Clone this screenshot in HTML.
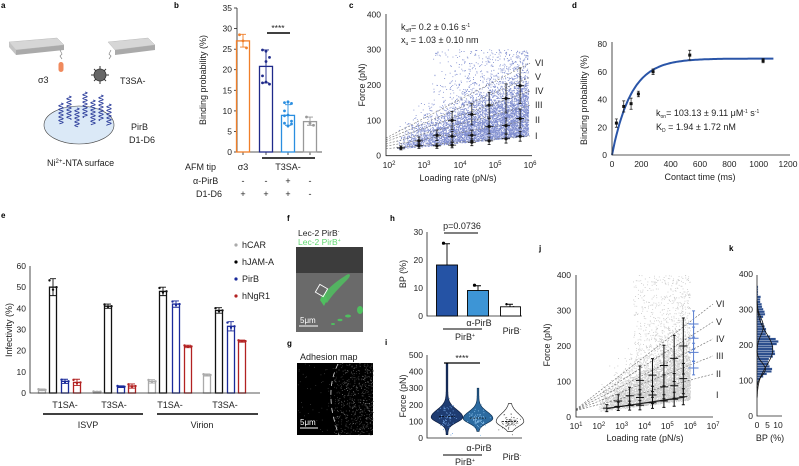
<!DOCTYPE html>
<html><head><meta charset="utf-8">
<style>
html,body{margin:0;padding:0;background:#fff;}
svg{display:block;font-family:"Liberation Sans",Arial,sans-serif;}
.t{font-size:8.5px;fill:#222}
.s{font-size:9px;fill:#222}
.L{font-size:8px;font-weight:bold;fill:#000}
.ax{stroke:#222;stroke-width:0.8;fill:none}
</style></head><body>
<svg id="sv" width="799" height="466" viewBox="0 0 799 466" xmlns="http://www.w3.org/2000/svg">
<ellipse cx="79" cy="125" rx="35" ry="19" fill="#dbe9f7" stroke="#444" stroke-width="0.6"/>
<g id="dyn"></g>
<!-- panel letters -->
<text class="L" x="1" y="8">a</text>
<text class="L" x="174" y="8">b</text>
<text class="L" x="349" y="8">c</text>
<text class="L" x="572" y="8">d</text>
<text class="L" x="1" y="218">e</text>
<text class="L" x="287" y="221">f</text>
<text class="L" x="287" y="346">g</text>
<text class="L" x="390" y="221">h</text>
<text class="L" x="385" y="345">i</text>
<text class="L" x="539" y="251">j</text>
<text class="L" x="729" y="251">k</text>

<!-- panel a -->
<polygon points="9,42 57,38 64,45 16,50" fill="#d6d6d6" stroke="#bbb" stroke-width="0.5"/>
<polygon points="16,50 64,45 64,50 16,55" fill="#aaa"/>
<polygon points="9,42 16,50 16,55 9,47" fill="#c4c4c4"/>
<path d="M60,50 l2,4 l-2,2 l2,3" stroke="#888" fill="none" stroke-width="0.7"/>
<rect x="58.5" y="62" width="5" height="10" rx="2.5" fill="#f08a5d"/>
<text class="s" x="38" y="83">σ3</text>
<polygon points="108,42 148,38 155,45 115,50" fill="#d6d6d6" stroke="#bbb" stroke-width="0.5"/>
<polygon points="115,50 155,45 155,50 115,55" fill="#aaa"/>
<path d="M111,50 l-2,4 l2,2 l-2,3" stroke="#888" fill="none" stroke-width="0.7"/>
<g stroke="#333" stroke-width="1">
<line x1="100" y1="66" x2="100" y2="84"/><line x1="91" y1="75" x2="109" y2="75"/>
<line x1="94" y1="69" x2="106" y2="81"/><line x1="106" y1="69" x2="94" y2="81"/></g>
<circle cx="100" cy="75" r="6" fill="#666" stroke="#333" stroke-width="0.8"/>
<text class="s" x="120" y="84">T3SA-</text>
<text class="s" x="131" y="130">PirB</text>
<text class="s" x="129" y="143">D1-D6</text>
<text class="s" x="47" y="166">Ni<tspan font-size="6" dy="-3">2+</tspan><tspan dy="3">-NTA surface</tspan></text>

<!-- panel b -->
<path class="ax" d="M237,8 V152 H322"/>
<g class="ax"><line x1="234" y1="152" x2="237" y2="152"/><line x1="234" y1="131.4" x2="237" y2="131.4"/><line x1="234" y1="110.9" x2="237" y2="110.9"/><line x1="234" y1="90.3" x2="237" y2="90.3"/><line x1="234" y1="69.7" x2="237" y2="69.7"/><line x1="234" y1="49.2" x2="237" y2="49.2"/><line x1="234" y1="28.6" x2="237" y2="28.6"/><line x1="234" y1="8" x2="237" y2="8"/>
<line x1="243" y1="152" x2="243" y2="155"/><line x1="266" y1="152" x2="266" y2="155"/><line x1="288" y1="152" x2="288" y2="155"/><line x1="310" y1="152" x2="310" y2="155"/></g>
<g class="t" text-anchor="end"><text x="232" y="155">0</text><text x="232" y="134.4">5</text><text x="232" y="113.9">10</text><text x="232" y="93.3">15</text><text x="232" y="72.7">20</text><text x="232" y="52.2">25</text><text x="232" y="31.6">30</text><text x="232" y="11">35</text></g>
<text class="s" transform="translate(206,80) rotate(-90)" text-anchor="middle">Binding probability (%)</text>
<rect x="236.5" y="40.9" width="13" height="111.1" fill="none" stroke="#f07f2a" stroke-width="1.3"/>
<rect x="259.5" y="66.4" width="13" height="85.6" fill="none" stroke="#1f2a8a" stroke-width="1.3"/>
<rect x="281.5" y="115.4" width="13" height="36.6" fill="none" stroke="#2a8ee0" stroke-width="1.3"/>
<rect x="303.5" y="121.6" width="13" height="30.4" fill="none" stroke="#999" stroke-width="1.3"/>
<line x1="267" y1="33" x2="290" y2="33" stroke="#000" stroke-width="1.5"/>
<text class="t" x="278" y="31" text-anchor="middle" font-size="8">****</text>
<g class="s"><text x="185" y="170">AFM tip</text><text x="243" y="170" text-anchor="middle">σ3</text><text x="288" y="170" text-anchor="middle">T3SA-</text>
<text x="193" y="184">α-PirB</text><text x="196" y="197">D1-D6</text>
<g text-anchor="middle"><text x="243" y="184">-</text><text x="266" y="184">-</text><text x="288" y="184">+</text><text x="310" y="184">-</text>
<text x="243" y="197">+</text><text x="266" y="197">+</text><text x="288" y="197">+</text><text x="310" y="197">-</text></g></g>
<line x1="262" y1="158" x2="315" y2="158" stroke="#000" stroke-width="1.5"/>

<!-- panel c -->
<path class="ax" d="M386,14 V155.7 H532"/>
<g class="t" text-anchor="end"><text x="381" y="158.7">0</text><text x="381" y="123.4">100</text><text x="381" y="88">200</text><text x="381" y="52.7">300</text><text x="381" y="17.3">400</text></g>
<g class="t" text-anchor="middle"><text x="389" y="168">10<tspan font-size="6" dy="-3">2</tspan></text><text x="424" y="168">10<tspan font-size="6" dy="-3">3</tspan></text><text x="460" y="168">10<tspan font-size="6" dy="-3">4</tspan></text><text x="495" y="168">10<tspan font-size="6" dy="-3">5</tspan></text><text x="530" y="168">10<tspan font-size="6" dy="-3">6</tspan></text></g>
<text class="s" x="458" y="181" text-anchor="middle">Loading rate (pN/s)</text>
<text class="s" transform="translate(365,85) rotate(-90)" text-anchor="middle">Force (pN)</text>
<text class="s" x="401" y="30">k<tspan font-size="5" dy="2">off</tspan><tspan dy="-2">= 0.2 ± 0.16 s</tspan><tspan font-size="5" dy="-3">-1</tspan></text>
<text class="s" x="401" y="43">x<tspan font-size="5" dy="2">u</tspan><tspan dy="-2"> = 1.03 ± 0.10 nm</tspan></text>
<g class="s"><text x="535" y="66">VI</text><text x="535" y="80">V</text><text x="535" y="94">IV</text><text x="535" y="108">III</text><text x="535" y="123">II</text><text x="535" y="139">I</text></g>

<!-- panel d -->
<path class="ax" d="M612,42 V155 H790"/>
<g class="t" text-anchor="end"><text x="607" y="158">0</text><text x="607" y="130.3">20</text><text x="607" y="102.5">40</text><text x="607" y="74.8">60</text><text x="607" y="47">80</text></g>
<g class="t" text-anchor="middle"><text x="612" y="167">0</text><text x="641.3" y="167">200</text><text x="670.7" y="167">400</text><text x="700" y="167">600</text><text x="729.4" y="167">800</text><text x="758.7" y="167">1000</text><text x="788" y="167">1200</text></g>
<text class="s" x="700" y="180" text-anchor="middle">Contact time (ms)</text>
<text class="s" transform="translate(587,100) rotate(-90)" text-anchor="middle">Binding probability (%)</text>
<text class="s" x="656" y="116">k<tspan font-size="5" dy="2">on</tspan><tspan dy="-2">= 103.13 ± 9.11 μM</tspan><tspan font-size="5" dy="-3">-1</tspan><tspan dy="3"> s</tspan><tspan font-size="5" dy="-3">-1</tspan></text>
<text class="s" x="656" y="130">K<tspan font-size="5" dy="2">D</tspan><tspan dy="-2"> = 1.94 ± 1.72 nM</tspan></text>

<!-- panel e -->
<path class="ax" d="M30,266 V393 H260"/>
<g class="t" text-anchor="end"><text x="26" y="396">0</text><text x="26" y="374.8">10</text><text x="26" y="353.7">20</text><text x="26" y="332.5">30</text><text x="26" y="311.3">40</text><text x="26" y="290.2">50</text><text x="26" y="269">60</text></g>
<text class="s" transform="translate(12,330) rotate(-90)" text-anchor="middle">Infectivity (%)</text>
<g class="s" text-anchor="middle"><text x="65" y="408">T1SA-</text><text x="114" y="408">T3SA-</text><text x="170" y="408">T1SA-</text><text x="225" y="408">T3SA-</text>
<text x="88" y="428">ISVP</text><text x="202" y="428">Virion</text></g>
<line x1="43" y1="414" x2="143" y2="414" stroke="#000" stroke-width="1.6"/>
<line x1="157" y1="414" x2="258" y2="414" stroke="#000" stroke-width="1.6"/>
<circle cx="236" cy="245" r="1.6" fill="#aaa"/><circle cx="236" cy="262" r="1.6" fill="#000"/><circle cx="236" cy="279" r="1.6" fill="#1a2a9a"/><circle cx="236" cy="296" r="1.6" fill="#b22222"/>
<g class="s"><text x="242" y="248">hCAR</text><text x="242" y="265">hJAM-A</text><text x="242" y="282">PirB</text><text x="242" y="299">hNgR1</text></g>

<!-- panel f -->
<rect x="296" y="247" width="67" height="85" fill="#6a6a6a"/>
<rect x="296" y="247" width="67" height="26" fill="#3c3c3c"/>
<text class="t" x="298" y="236" font-size="8">Lec-2 PirB<tspan font-size="5" dy="-3">-</tspan></text>
<text class="t" x="298" y="245" font-size="8" style="fill:#5fd86f">Lec-2 PirB<tspan font-size="5" dy="-3">+</tspan></text>
<path d="M321,298 C326,290 335,282 345,276 C350,272 352,275 347,280 C340,287 332,295 327,303 Z" fill="#4fbf5f" opacity="0.85"/>
<path d="M320,300 C322,294 326,292 327,300 L324,306 Z" fill="#4fbf5f"/>
<ellipse cx="360" cy="310" rx="3" ry="4" fill="#4fbf5f"/>
<ellipse cx="348" cy="316" rx="3" ry="1.5" fill="#4fbf5f"/><ellipse cx="340" cy="320" rx="2.5" ry="1.2" fill="#4fbf5f"/><ellipse cx="333" cy="324" rx="2" ry="1" fill="#4fbf5f"/>
<rect x="317" y="286" width="9" height="9" fill="none" stroke="#fff" stroke-width="0.9" transform="rotate(30 321.5 290.5)"/>
<line x1="299" y1="326" x2="318" y2="326" stroke="#fff" stroke-width="1"/>
<text x="300" y="323" font-size="8" fill="#fff">5μm</text>

<!-- panel g -->
<text class="s" x="300" y="360">Adhesion map</text>
<rect x="297" y="363" width="76" height="72" fill="#000"/>
<g id="gdots"></g>
<path d="M338,364 C330,380 330,395 332,410 C334,420 336,428 339,435" stroke="#ddd" stroke-width="0.8" stroke-dasharray="5,4" fill="none"/>
<line x1="300" y1="428" x2="318" y2="428" stroke="#fff" stroke-width="1"/>
<text x="300" y="425" font-size="8" fill="#fff">5μm</text>

<!-- panel h -->
<path class="ax" d="M427,232 V316 H522"/>
<g class="t" text-anchor="end"><text x="423" y="319">0</text><text x="423" y="291">10</text><text x="423" y="263">20</text><text x="423" y="235">30</text></g>
<text class="s" transform="translate(406,274) rotate(-90)" text-anchor="middle">BP (%)</text>
<rect x="436.5" y="265" width="21" height="51" fill="#2553a5" stroke="#000" stroke-width="0.9"/>
<rect x="467.5" y="290.5" width="21" height="25.5" fill="#3d95d6" stroke="#000" stroke-width="0.9"/>
<rect x="500.5" y="306.8" width="20" height="9.2" fill="#fff" stroke="#000" stroke-width="0.9"/>
<text class="s" x="462" y="229" text-anchor="middle">p=0.0736</text>
<line x1="444" y1="233" x2="478" y2="233" stroke="#000" stroke-width="1"/>
<g class="s" text-anchor="middle"><text x="479" y="326">α-PirB</text><text x="465" y="340">PirB<tspan font-size="5" dy="-3">+</tspan></text><text x="512" y="334">PirB<tspan font-size="5" dy="-3">-</tspan></text></g>
<line x1="443" y1="329" x2="482" y2="329" stroke="#000" stroke-width="1"/>

<!-- panel i -->
<path class="ax" d="M427,355 V438 H522"/>
<g class="t" text-anchor="end"><text x="423" y="441">0</text><text x="423" y="424.4">100</text><text x="423" y="407.8">200</text><text x="423" y="391.2">300</text><text x="423" y="374.6">400</text><text x="423" y="358">500</text></g>
<text class="s" transform="translate(406,396) rotate(-90)" text-anchor="middle">Force (pN)</text>
<line x1="444" y1="363" x2="480" y2="363" stroke="#000" stroke-width="1.2"/>
<text class="t" x="462" y="361" text-anchor="middle" font-size="8">****</text>
<g class="s" text-anchor="middle"><text x="479" y="451">α-PirB</text><text x="465" y="465">PirB<tspan font-size="5" dy="-3">+</tspan></text><text x="512" y="460">PirB<tspan font-size="5" dy="-3">-</tspan></text></g>
<line x1="443" y1="455" x2="482" y2="455" stroke="#000" stroke-width="1"/>

<!-- panel j -->
<path class="ax" d="M576,275 V417 H713"/>
<g class="t" text-anchor="end"><text x="571" y="420">0</text><text x="571" y="384.5">100</text><text x="571" y="349">200</text><text x="571" y="313.5">300</text><text x="571" y="278">400</text></g>
<g class="t" text-anchor="middle"><text x="576" y="429">10<tspan font-size="6" dy="-3">1</tspan></text><text x="598.8" y="429">10<tspan font-size="6" dy="-3">2</tspan></text><text x="621.7" y="429">10<tspan font-size="6" dy="-3">3</tspan></text><text x="644.5" y="429">10<tspan font-size="6" dy="-3">4</tspan></text><text x="667.3" y="429">10<tspan font-size="6" dy="-3">5</tspan></text><text x="690.2" y="429">10<tspan font-size="6" dy="-3">6</tspan></text><text x="713" y="429">10<tspan font-size="6" dy="-3">7</tspan></text></g>
<text class="s" x="645" y="441" text-anchor="middle">Loading rate (pN/s)</text>
<text class="s" transform="translate(550,345) rotate(-90)" text-anchor="middle">Force (pN)</text>
<g class="s"><text x="716" y="307">VI</text><text x="716" y="325">V</text><text x="716" y="342">IV</text><text x="716" y="359">III</text><text x="716" y="377">II</text><text x="716" y="398">I</text></g>

<!-- panel k -->
<path class="ax" d="M757,275 V416 H782"/>
<g class="t" text-anchor="end"><text x="753" y="419">0</text><text x="753" y="383.5">100</text><text x="753" y="348">200</text><text x="753" y="312.5">300</text><text x="753" y="277">400</text></g>
<g class="t" text-anchor="middle"><text x="757" y="428">0</text><text x="767.5" y="428">5</text><text x="778" y="428">10</text></g>
<text class="s" x="770" y="441" text-anchor="middle">BP (%)</text>
</svg>
<script>
(function(){
var dyn=document.getElementById('dyn');
var out=[];
var seed=12345;
function R(){seed|=0;seed=seed+0x6D2B79F5|0;var t=Math.imul(seed^seed>>>15,1|seed);t=t+Math.imul(t^t>>>7,61|t)^t;return((t^t>>>14)>>>0)/4294967296;}
function N(){return Math.sqrt(-2*Math.log(R()+1e-9))*Math.cos(2*Math.PI*R());}
// panel a helices
var hx=[61,69,77,85,93,101,109],ht=[103,96,108,92,100,95,104],hb=[124,120,127,118,125,121,126];
for(var i=0;i<hx.length;i++){var d="M"+hx[i]+","+ht[i];for(var y=ht[i];y<=hb[i];y+=0.4){d+=" L"+(hx[i]+2.2*Math.sin((y-ht[i])*1.7)).toFixed(2)+","+y.toFixed(1);}out.push('<path d="'+d+'" stroke="#2e3f9c" stroke-width="0.9" fill="none"/>');}
// panel b dots & error bars
function yb(v){return 152-v*4.114;}
function eb(x,lo,hi,c){out.push('<path d="M'+x+','+lo+' V'+hi+' M'+(x-3)+','+hi+' H'+(x+3)+' M'+(x-3)+','+lo+' H'+(x+3)+'" stroke="'+c+'" stroke-width="0.9" fill="none"/>');}
function dots(x,vals,f,c,r){vals.forEach(function(v,k){out.push('<circle cx="'+(x+((k%3)-1)*3.5)+'" cy="'+f(v)+'" r="'+(r||1.4)+'" fill="'+c+'"/>');});}
eb(243,yb(25.5),yb(28.6),'#f07f2a');dots(243,[28.5,27,25.3],yb,'#f07f2a');
eb(266,yb(16.8),yb(24.8),'#1f2a8a');dots(266,[24.8,24.5,23,18.5,17,16.5,16.8,22],yb,'#1f2a8a');
eb(288,yb(6.5),yb(11.5),'#2a8ee0');dots(288,[12,12.2,11.8,10,9,7.5,7,6.3,6.8,8.8,12.1],yb,'#2a8ee0');
eb(310,yb(6.5),yb(8.5),'#999');dots(310,[8.5,7,6.5],yb,'#999');
// panel c scatter
function xc(l){return 389+(l-2)*35.25;}function yc(F){return 155.7-F*0.3535;}
var s=[];
for(var i=0;i<6500;i++){var l=2.2+3.75*Math.pow(R(),0.55);var F;
 if(R()<0.12&&l>3.2){F=60+R()*240;}else{F=15+10*(l-2)+Math.abs(N())*(22+18*(l-2));}
 if(F>300||l>5.95)continue;s.push('M'+xc(l).toFixed(1)+','+yc(F).toFixed(1)+'h.9');}
out.push('<path d="'+s.join('')+'" stroke="#3f54b8" stroke-width="0.9" opacity="0.65"/>');
var cl=[[50,262],[45,222],[40,183],[33,143],[27,101],[20,56]];
cl.forEach(function(p){out.push('<line x1="386" y1="'+yc(p[0])+'" x2="'+xc(6)+'" y2="'+yc(p[1])+'" stroke="#777" stroke-width="0.6" stroke-dasharray="2,1.5"/>');});
var cc=[[2.34,[22]],[2.85,[28,42]],[3.36,[28,58]],[3.79,[30,55,100]],[4.35,[38,58,117]],[4.84,[42,83,143]],[5.32,[48,85,162]],[5.72,[55,105,198]]];
function cross(x,y,dx,dy,c,w){out.push('<path d="M'+(x-dx)+','+y+'H'+(x+dx)+'M'+x+','+(y-dy)+'V'+(y+dy)+'M'+(x-1.5)+','+(y-dy)+'h3M'+(x-1.5)+','+(y+dy)+'h3" stroke="'+c+'" stroke-width="'+(w||0.8)+'" fill="none"/>');}
cc.forEach(function(c){c[1].forEach(function(F,k){var x=xc(c[0]),y=yc(F);cross(x,y,4,F*0.09,'#111');out.push('<circle cx="'+x+'" cy="'+y+'" r="1.6" fill="#111"/>');});});
// panel d
function xd(t){return 612+t*0.1467;}function yd(v){return 155-v*1.3875;}
var d="";for(var t=0;t<=1100;t+=10){var v=69.5*(1-Math.exp(-t/130));d+=(t?"L":"M")+xd(t).toFixed(1)+","+yd(v).toFixed(1);}
out.push('<path d="'+d+'" stroke="#2a55a8" stroke-width="2" fill="none"/>');
[[30,23,3],[80,35,4],[130,37,4],[180,44,2],[280,60,2],[530,72,3.5],[1030,68,1.5]].forEach(function(p){var x=xd(p[0]),y=yd(p[1]);out.push('<path d="M'+x+','+yd(p[1]-p[2])+'V'+yd(p[1]+p[2])+'M'+(x-1.5)+','+yd(p[1]-p[2])+'h3M'+(x-1.5)+','+yd(p[1]+p[2])+'h3" stroke="#111" stroke-width="0.7"/><rect x="'+(x-1.5)+'" y="'+(y-1.5)+'" width="3" height="3" fill="#111"/>');});
// panel e bars
function ye(v){return 393-v*2.117;}
var cols=['#aaa','#111','#1a2a9a','#b22222'];
var xs=[[42,53,65,77],[97,108,121,132],[152,163,176,188],[207,219,231,242]];
var vs=[[1.5,50,5.5,5],[0.6,41,3,3.3],[5.5,48,42,22],[8.5,39,31.5,24.5]];
var es=[[0.4,4,1,1.5],[0.2,1,0.4,1],[0.8,2,1.5,0.6],[0.5,1.3,2.2,0.5]];
for(var g=0;g<4;g++)for(var k=0;k<4;k++){var x=xs[g][k],v=vs[g][k],c=cols[k];
 out.push('<rect x="'+(x-3.5)+'" y="'+ye(v)+'" width="7" height="'+(393-ye(v))+'" fill="none" stroke="'+c+'" stroke-width="1.3"/>');
 eb(x,ye(v-es[g][k]),ye(v+es[g][k]),c);dots(x,[v+es[g][k]*0.8,v-es[g][k]*0.3,v],ye,c,1.2);}
// panel g speckles
var gs=[];for(var i=0;i<700;i++){var x=297+76*Math.pow(R(),0.5),y=363+72*R();if(x<334)continue;var b=Math.floor(60+120*R()*R());gs.push('<rect x="'+x.toFixed(1)+'" y="'+y.toFixed(1)+'" width="0.8" height="0.8" fill="rgb('+b+','+b+','+b+')"/>');}
for(var i=0;i<50;i++){var x=297+40*R(),y=363+72*R();gs.push('<rect x="'+x.toFixed(1)+'" y="'+y.toFixed(1)+'" width="0.7" height="0.7" fill="#555"/>');}
document.getElementById('gdots').innerHTML=gs.join('');
// panel h
function yh(v){return 316-v*2.8;}
eb(447,yh(11),yh(25.8),'#000');dots(447,[26,16.5,17],yh,'#000',1.6);
eb(478,yh(7.5),yh(10.8),'#000');dots(478,[11,8.5,8.3],yh,'#000',1.6);
eb(510,yh(2.7),yh(4.2),'#000');dots(510,[4.2,3,3.1],yh,'#000',1.2);
// panel i violins
function yi(F){return 438-F*0.166;}
function violin(cx,lo,hi,mode,w,fill,stroke,sl,sh){var pts=[];for(var F=lo;F<=hi;F+=4){var z=(F-mode)/(F<mode?sl:sh);var hw=w*Math.exp(-z*z/2)+0.8;pts.push([F,hw]);}
 var d="M"+cx+","+yi(lo);pts.forEach(function(p){d+="L"+(cx+p[1]).toFixed(1)+","+yi(p[0]).toFixed(1);});for(var j=pts.length-1;j>=0;j--){d+="L"+(cx-pts[j][1]).toFixed(1)+","+yi(pts[j][0]).toFixed(1);}d+="Z";
 out.push('<path d="'+d+'" fill="'+fill+'" stroke="'+stroke+'" stroke-width="0.7"/>');}
violin(447,20,450,125,15,'#1e3c72','#0d1d3f',30,45);violin(478,40,300,118,14,'#2b6aa0','#113355',28,40);violin(510,40,210,100,13,'#fff','#333',30,45);
var vd=[];[[447,130,40,'#6fa0e0'],[478,120,30,'#8fc4ee'],[510,100,25,'#555']].forEach(function(v){for(var i=0;i<70;i++){var F=v[1]+N()*v[2];vd.push('<circle cx="'+(v[0]+N()*4).toFixed(1)+'" cy="'+yi(F).toFixed(1)+'" r="0.5" fill="'+v[3]+'"/>');}});out.push(vd.join(''));
[[447,130],[478,120],[510,100]].forEach(function(v){out.push('<line x1="'+(v[0]-8)+'" y1="'+yi(v[1])+'" x2="'+(v[0]+8)+'" y2="'+yi(v[1])+'" stroke="#000" stroke-width="0.7" stroke-dasharray="2,1"/>');});
// panel j
function xj(l){return 576+(l-1)*22.83;}function yj(F){return 417-F*0.355;}
var s2=[];for(var i=0;i<6000;i++){var l=2.0+4.0*Math.pow(R(),0.6);var F;if(R()<0.15&&l>3.5){F=50+R()*350;}else{F=15+8*(l-2)+Math.abs(N())*(25+20*(l-2));}if(F>400||l>6.05)continue;s2.push('M'+xj(l).toFixed(1)+','+yj(F).toFixed(1)+'h.9');}
out.push('<path d="'+s2.join('')+'" stroke="#b8b8b8" stroke-width="0.9" opacity="0.7"/>');
var jl=[[22,318],[21,268],[20,220],[19,172],[18,121]];
jl.forEach(function(p){out.push('<line x1="576" y1="'+yj(p[0])+'" x2="'+xj(7)+'" y2="'+yj(p[1])+'" stroke="#666" stroke-width="0.6" stroke-dasharray="2,1.5"/>');});
out.push('<line x1="'+xj(2.35)+'" y1="'+yj(24)+'" x2="'+xj(5.75)+'" y2="'+yj(56)+'" stroke="#222" stroke-width="1.2"/>');
var jc=[[2.35,[25]],[2.85,[30,45]],[3.35,[32,60]],[3.8,[33,55,103]],[4.35,[40,62,118]],[4.85,[45,85,145]],[5.3,[50,88,165]],[5.7,[57,108,200]]];
jc.forEach(function(c){c[1].forEach(function(F){var x=xj(c[0]),y=yj(F);cross(x,y,4,F*0.14,'#111',1);});});
[262,222,182,138].forEach(function(F){cross(xj(6.15),yj(F),5,F*0.05,'#5a7fd0',1);});
// panel k
function xk(p){return 757+p*2.1;}
var kb=[];var pk=[[130,6.5,14],[175,8,15],[210,9.5,12],[245,4,12],[290,3.5,15],[330,1.2,15]];
for(var F=90;F<370;F+=7){var p=0;pk.forEach(function(q){var z=(F-q[0])/q[2];p+=q[1]*Math.exp(-z*z/2);});p+=0.5*Math.abs(N());if(F<100||F>340)p=0.5;
 kb.push('<rect x="757" y="'+yj(F+7).toFixed(1)+'" width="'+(p*2.1).toFixed(1)+'" height="'+(7*0.355).toFixed(1)+'" fill="#2d4f8e" stroke="#fff" stroke-width="0.3"/>');}
out.push(kb.join(''));
function gcurve(m,a,sd){var d="";for(var F=m-3*sd;F<=m+3*sd;F+=3){var z=(F-m)/sd;d+=(d?"L":"M")+xk(a*Math.exp(-z*z/2)).toFixed(1)+","+yj(F).toFixed(1);}out.push('<path d="'+d+'" stroke="#111" stroke-width="0.8" fill="none"/>');}
gcurve(190,7.5,45);gcurve(135,4,18);gcurve(255,3,25);
dyn.innerHTML=out.join('');
})();
</script>
</body></html>
